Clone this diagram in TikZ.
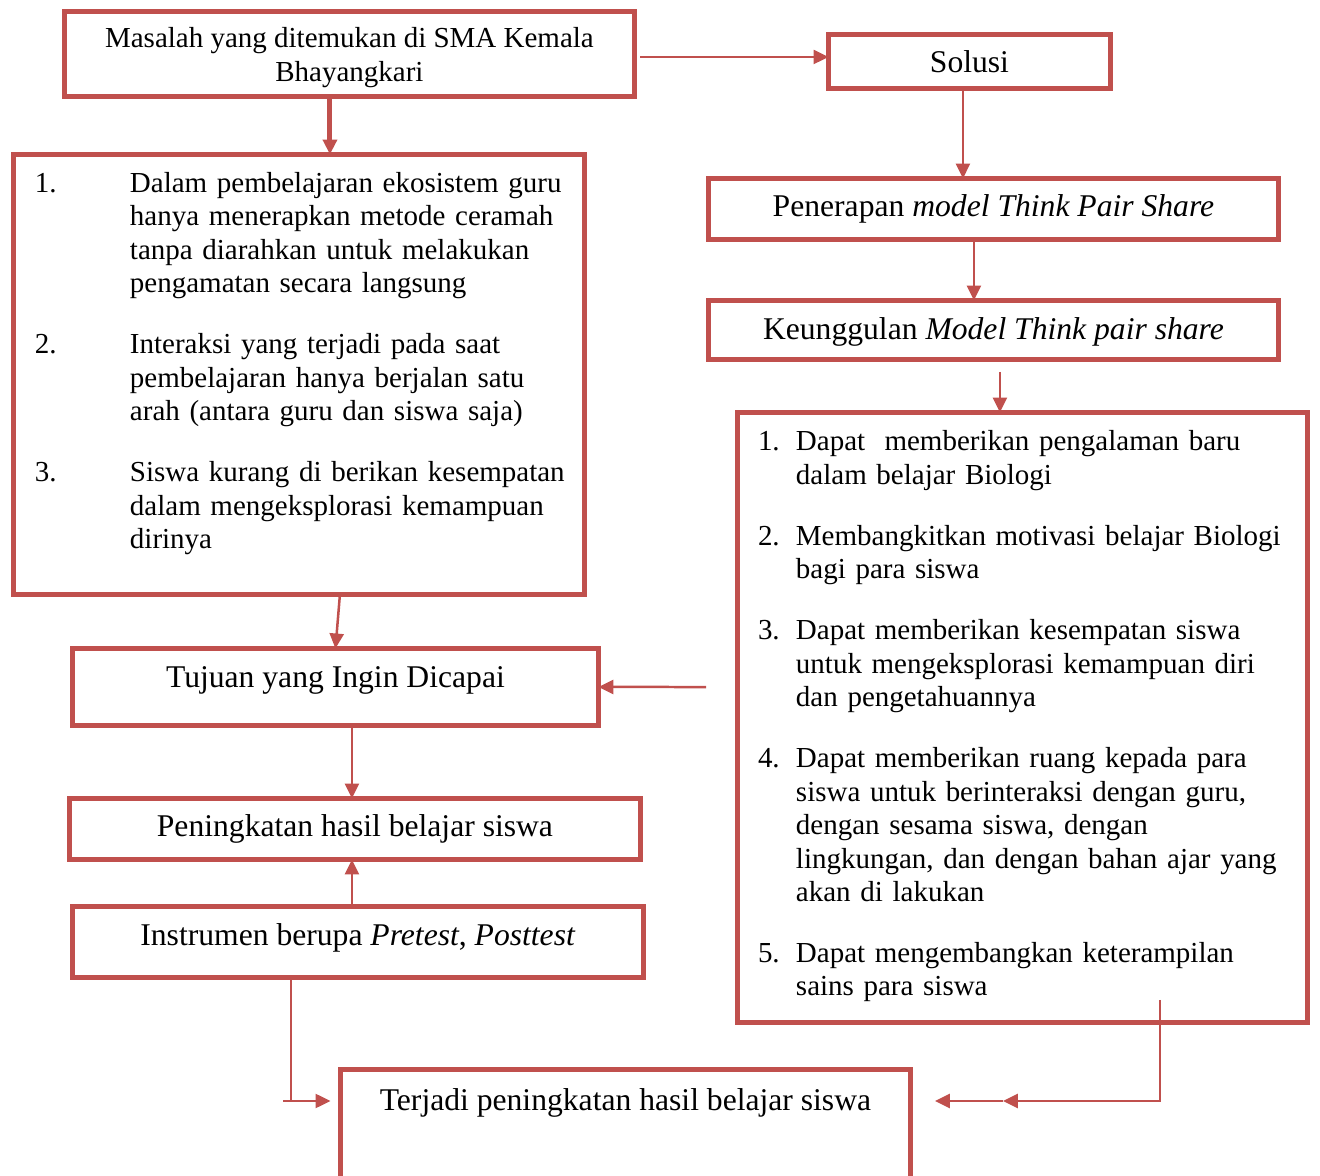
\documentclass[tikz,border=0pt]{standalone}
\usepackage{fontspec}
\setmainfont{Liberation Serif}
\usetikzlibrary{arrows.meta}
\definecolor{boxred}{HTML}{C0504D}

\begin{document}
\begin{tikzpicture}[x=0.02cm,y=0.02cm,
	box/.style={draw=boxred,line width=0.1cm,inner sep=0pt,outer sep=0pt,anchor=north west},
	bigtext/.style={font=\fontsize{18}{21.6}\selectfont},
	listtext/.style={font=\fontsize{16.5}{19.06}\selectfont},
	conn/.style={draw=boxred,line width=0.05cm},
	arr/.style={conn,-{Triangle[length=0.3cm,width=0.28cm]}}]
	
	\useasboundingbox (0,0) rectangle (1320,-1176);
	
	\node[box,listtext,minimum width=11.4cm,text height=0.73cm,text depth=0.97cm] (m) at (64.5, -11.5)
		{\begin{tabular}[t]{@{}c@{}}Masalah yang ditemukan di SMA Kemala\\Bhayangkari\end{tabular}};
	\node[box,bigtext,minimum width=5.64cm,text height=0.77cm,text depth=0.31cm] (s) at (828.5, -34.5) {Solusi};
	\node[box,listtext,text width=11.42cm,align=left,text height=0.76cm,text depth=8.04cm] (p) at (13.5, -154.5)
		{\begin{tabular}[t]{@{\hspace{0.43cm}}p{1.9cm}@{}l@{}}
			1. & Dalam pembelajaran ekosistem guru\\
			   & hanya menerapkan metode ceramah\\
			   & tanpa diarahkan untuk melakukan\\
			   & pengamatan secara langsung\\[15.6pt]
			2. & Interaksi yang terjadi pada saat\\
			   & pembelajaran hanya berjalan satu\\
			   & arah (antara guru dan siswa saja)\\[15.6pt]
			3. & Siswa kurang di berikan kesempatan\\
			   & dalam mengeksplorasi kemampuan\\
			   & dirinya
		\end{tabular}};
	\node[box,bigtext,minimum width=11.4cm,text height=0.77cm,text depth=0.45cm] (n) at (708.5, -178.5)
		{Penerapan \textit{model Think Pair Share}};
	\node[box,bigtext,minimum width=11.4cm,text height=0.79cm,text depth=0.39cm] (k) at (708.5, -300.5)
		{Keunggulan \textit{Model Think pair share}};
	\node[box,listtext,text width=11.4cm,align=left,text height=0.77cm,text depth=11.43cm] (u) at (737.5, -412.5)
		{\begin{tabular}[t]{@{\hspace{0.41cm}}p{0.76cm}@{}l@{}}
			1. & Dapat~ memberikan pengalaman baru\\
			   & dalam belajar Biologi\\[15.6pt]
			2. & Membangkitkan motivasi belajar Biologi\\
			   & bagi para siswa\\[15.6pt]
			3. & Dapat memberikan kesempatan siswa\\
			   & untuk mengeksplorasi kemampuan diri\\
			   & dan pengetahuannya\\[15.6pt]
			4. & Dapat memberikan ruang kepada para\\
			   & siswa untuk berinteraksi dengan guru,\\
			   & dengan sesama siswa, dengan\\
			   & lingkungan, dan dengan bahan ajar yang\\
			   & akan di lakukan\\[15.6pt]
			5. & Dapat mengembangkan keterampilan\\
			   & sains para siswa
		\end{tabular}};
	\node[box,bigtext,minimum width=10.52cm,text height=0.79cm,text depth=0.75cm] (t) at (72.5, -648.5) {Tujuan yang Ingin Dicapai};
	\node[box,bigtext,minimum width=11.42cm,text height=0.77cm,text depth=0.45cm] (h) at (69.5, -798.5) {Peningkatan hasil belajar siswa};
	\node[box,bigtext,minimum width=11.42cm,text height=0.79cm,text depth=0.63cm] (i) at (72.5, -906.5)
		{Instrumen berupa \textit{Pretest}, \textit{Posttest}};
	\node[box,bigtext,minimum width=11.4cm,text height=0.83cm,text depth=2.0cm] (r) at (340.5, -1069.5)
		{Terjadi peningkatan hasil belajar siswa};
	
	\coordinate (kt) at (706, -687);
	\coordinate (ri) at ([xshift=-0.2cm,yshift=0.2cm]r.base west);
	\coordinate (ro) at ([xshift=0.49cm,yshift=0.2cm]r.base east);
	
	\draw[arr] ([xshift=0.12cm,yshift=-0.06cm]m.east) -- ([yshift=-0.06cm]m.east -| s.west);
	\draw[arr,line width=0.1cm] ([xshift=-0.39cm]m.south) -- ([xshift=-0.39cm]m.south |- p.north);
	\draw[arr] ([xshift=-0.13cm]s.south) -- ([xshift=-0.13cm]s.south |- n.north);
	\draw[arr] ([xshift=-0.39cm]n.south) -- ([xshift=-0.39cm]n.south |- k.north);
	\draw[arr] ([xshift=0.13cm,yshift=-0.25cm]k.south) -- ([xshift=0.13cm]k.south |- u.north);
	\draw[arr] ([xshift=0.82cm]p.south) -- (t.north);
	\draw[arr] (kt) -- (t.east);
	\draw[arr] ([xshift=0.33cm]t.south) -- ([xshift=0.33cm]t.south |- h.north);
	\draw[arr] ([xshift=-0.12cm]i.north) -- ([xshift=-0.12cm]i.north |- h.south);
	\draw[conn] ([xshift=-1.34cm]i.south) -- ([xshift=-1.34cm]i.south |- ri);
	\draw[arr] ([xshift=-0.95cm]ri) -- (ri);
	\draw[arr] ([xshift=2.75cm,yshift=0.45cm]u.south) |- ([xshift=1.36cm]ro);
	\draw[arr] ([xshift=1.36cm]ro) -- (ro);
\end{tikzpicture}
\end{document}
